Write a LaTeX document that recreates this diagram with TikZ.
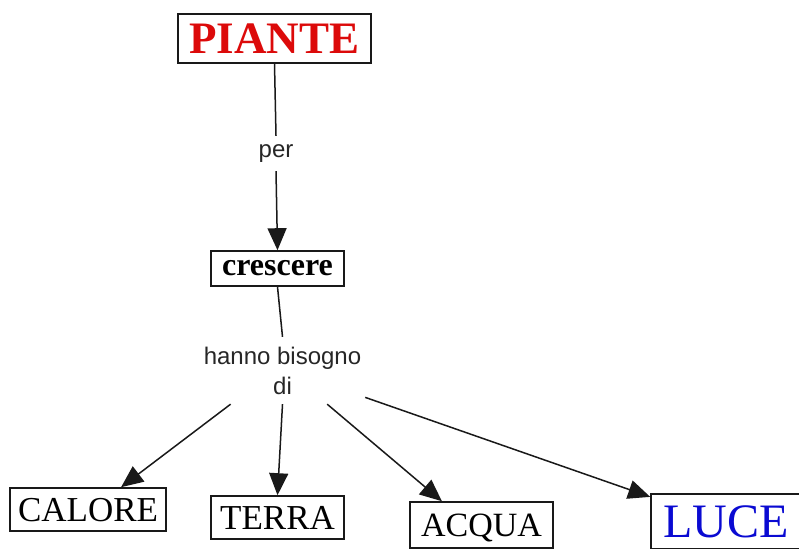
\documentclass[tikz,border=0pt]{standalone}
\usepackage{fontspec}
\setmainfont{Liberation Serif}
\newfontfamily\lblfont{Liberation Sans}
\usetikzlibrary{arrows.meta}
\definecolor{pred}{RGB}{220,10,10}
\definecolor{lblue}{RGB}{10,10,210}
\begin{document}
\begin{tikzpicture}[x=1pt,y=-1pt,
  box/.style={draw=black!90,line width=1.6pt,inner sep=0pt,text depth=0pt},
  lbl/.style={font=\lblfont\fontsize{24}{30}\selectfont,inner sep=0pt,align=center,text=black!85},
  conn/.style={line width=1.5pt,draw=black!90},
  arr/.style={conn,-{Triangle[length=22pt,width=19pt]}}]
\useasboundingbox (0,0) rectangle (799,548);
\node[box,minimum width=193pt,minimum height=49pt,text=pred,font=\fontsize{45}{45}\selectfont\bfseries,text height=29.8pt] (piante) at (274.5,38.5) {PIANTE};
\node[box,minimum width=133pt,minimum height=35pt,font=\fontsize{32}{32}\selectfont\bfseries,text height=14.7pt] (crescere) at (277.5,268.5) {crescere};
\node[lbl,minimum width=40pt,minimum height=35pt] (per) at (276,153.5) {per};
\node[lbl,minimum width=165pt,minimum height=67pt] (hb) at (282.5,370.5) {hanno bisogno\\di};
\node[box,minimum width=156pt,minimum height=43pt,font=\fontsize{35}{35}\selectfont,text height=23.2pt] (calore) at (88,509.5) {CALORE};
\node[box,minimum width=133pt,minimum height=43pt,font=\fontsize{35}{35}\selectfont,text height=23.2pt] (terra) at (277.5,517.5) {TERRA};
\node[box,minimum width=143pt,minimum height=46pt,font=\fontsize{34}{34}\selectfont,text height=22.5pt] (acqua) at (481.5,525) {ACQUA};
\node[box,minimum width=150pt,minimum height=55pt,text=lblue,font=\fontsize{48}{48}\selectfont,text height=31.8pt] (luce) at (726,521.5) {LUCE};
\draw[conn] (piante.south) -- (per.north);
\draw[arr] (per.south) -- (crescere.north);
\draw[conn] (crescere.south) -- (hb.north);
\draw[arr] (hb.213) -- (calore.34);
\draw[arr] (hb.south) -- (terra.north);
\draw[arr] (hb.-37) -- (acqua.149);
\draw[arr] (hb.-18) -- (luce.162);
\end{tikzpicture}
\end{document}
